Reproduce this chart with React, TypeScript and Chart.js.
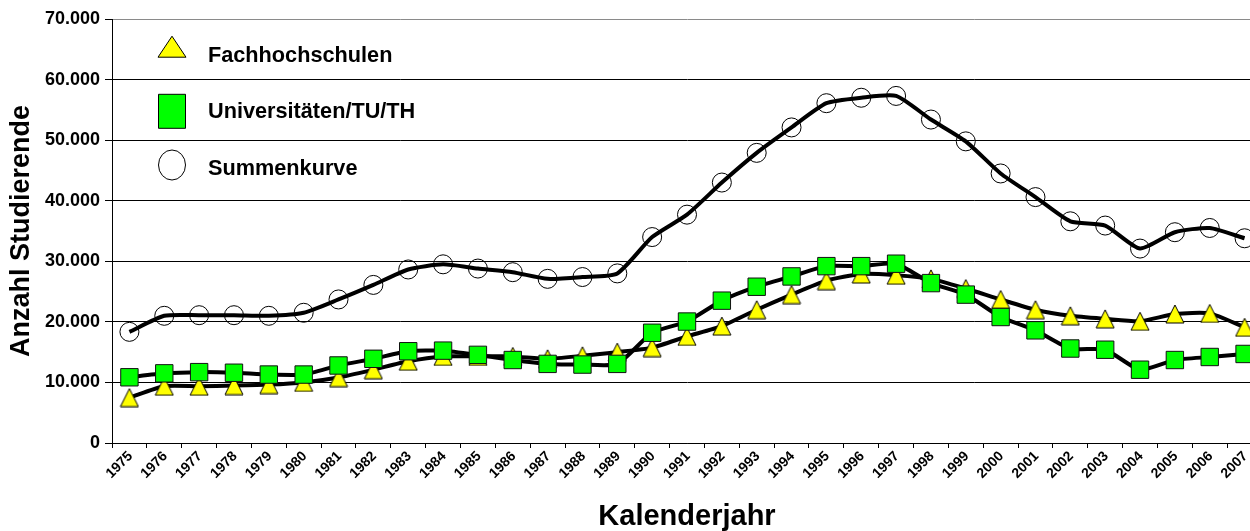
import React, { useEffect, useRef } from 'react';
import { Chart, registerables } from 'chart.js';

Chart.register(...registerables);

const years = ['1975', '1976', '1977', '1978', '1979', '1980', '1981', '1982', '1983', '1984', '1985',
  '1986', '1987', '1988', '1989', '1990', '1991', '1992', '1993', '1994', '1995', '1996', '1997',
  '1998', '1999', '2000', '2001', '2002', '2003', '2004', '2005', '2006', '2007'];

const fachhochschulen = [7500, 9370, 9370, 9480, 9640, 10000, 10800, 12100, 13500, 14300, 14300,
  14300, 13900, 14400, 15000, 15750, 17600, 19300, 22000, 24500, 26800, 27900, 27700,
  27100, 25500, 23700, 22000, 21000, 20500, 20100, 21300, 21400, 19100];

const universitaeten = [10850, 11500, 11700, 11600, 11300, 11300, 12800, 13900, 15150, 15250, 14550,
  13700, 13060, 12950, 13060, 18200, 20050, 23500, 25800, 27500, 29200, 29200, 29600,
  26400, 24500, 20800, 18600, 15600, 15400, 12100, 13700, 14200, 14700];

const summenkurve = [18350, 21000, 21100, 21100, 21000, 21500, 23700, 26100, 28650, 29500, 28800,
  28200, 27100, 27400, 28000, 34000, 37700, 43000, 47900, 52100, 56100, 57000, 57300,
  53400, 49800, 44500, 40600, 36600, 35900, 32100, 34800, 35500, 33800];

const yTickLabels = ['0', '10.000', '20.000', '30.000', '40.000', '50.000', '60.000', '70.000'];
const seriesNames = ['Fachhochschulen', 'Universitäten/TU/TH', 'Summenkurve'];
const xTitle = 'Kalenderjahr';
const yTitle = 'Anzahl Studierende';

const FONT = "'Liberation Sans', Arial, Helvetica, sans-serif";

function makeTriangle(w: number, h: number): HTMLCanvasElement {
  const c = document.createElement('canvas');
  c.width = w + 2;
  c.height = h + 2;
  const g = c.getContext('2d')!;
  g.beginPath();
  g.moveTo((w + 2) / 2, 1);
  g.lineTo(w + 1, h + 1);
  g.lineTo(1, h + 1);
  g.closePath();
  g.fillStyle = '#FFFF00';
  g.fill();
  g.lineWidth = 1;
  g.strokeStyle = '#000';
  g.stroke();
  return c;
}

const legendPlugin = {
  id: 'insideLegend',
  afterDraw(chart: any) {
    const ctx = chart.ctx as CanvasRenderingContext2D;
    const cx = 172;
    const textX = 208;
    const rows = [
      { cy: 46.7, base: 61.5 },
      { cy: 111.3, base: 118.3 },
      { cy: 165, base: 175 },
    ];
    ctx.save();
    ctx.lineWidth = 1;
    ctx.strokeStyle = '#000';
    // triangle
    ctx.beginPath();
    ctx.moveTo(cx, rows[0].cy - 10.5);
    ctx.lineTo(cx + 14, rows[0].cy + 10.5);
    ctx.lineTo(cx - 14, rows[0].cy + 10.5);
    ctx.closePath();
    ctx.fillStyle = '#FFFF00';
    ctx.fill();
    ctx.stroke();
    // square
    ctx.beginPath();
    ctx.rect(cx - 13.5, rows[1].cy - 17, 27, 34);
    ctx.fillStyle = '#00FF00';
    ctx.fill();
    ctx.stroke();
    // circle
    ctx.beginPath();
    ctx.ellipse(cx, rows[2].cy, 13.5, 15, 0, 0, Math.PI * 2);
    ctx.fillStyle = '#FFFFFF';
    ctx.fill();
    ctx.stroke();
    // text
    ctx.fillStyle = '#000';
    ctx.font = `bold 21.7px ${FONT}`;
    ctx.textAlign = 'left';
    ctx.textBaseline = 'alphabetic';
    chart.data.datasets.forEach((ds: any, i: number) => {
      ctx.fillText(ds.label, textX, rows[i].base);
    });
    ctx.restore();
  },
};

export default function App() {
  const canvasRef = useRef<HTMLCanvasElement | null>(null);

  useEffect(() => {
    if (!canvasRef.current) return;
    const tri = makeTriangle(18, 18);
    const chart = new Chart(canvasRef.current, {
      type: 'line',
      data: {
        labels: years,
        datasets: [
          {
            label: seriesNames[0],
            data: fachhochschulen,
            borderColor: '#000',
            borderWidth: 4,
            tension: 0.2,
            pointStyle: tri as any,
            pointRadius: 10,
            order: 2,
          },
          {
            label: seriesNames[1],
            data: universitaeten,
            borderColor: '#000',
            borderWidth: 4,
            tension: 0.2,
            pointStyle: 'rect',
            pointRadius: 12.3,
            pointBackgroundColor: '#00FF00',
            pointBorderColor: '#111',
            pointBorderWidth: 1,
            order: 1,
          },
          {
            label: seriesNames[2],
            data: summenkurve,
            borderColor: '#000',
            borderWidth: 4,
            tension: 0.2,
            pointStyle: 'circle',
            pointRadius: 9.5,
            pointBackgroundColor: 'rgba(255,255,255,0)',
            pointBorderColor: '#000',
            pointBorderWidth: 1,
            order: 0,
          },
        ],
      },
      options: {
        responsive: false,
        animation: false,
        events: [],
        layout: { padding: { top: 19, right: 18, left: 0, bottom: 0 } },
        plugins: {
          legend: { display: false },
          tooltip: { enabled: false },
        },
        scales: {
          x: {
            type: 'category',
            offset: true,
            grid: {
              display: true,
              drawOnChartArea: false,
              drawTicks: true,
              tickLength: 5,
              color: '#000',
              offset: true,
            },
            border: { display: true, color: '#000', width: 1 },
            ticks: {
              autoSkip: false,
              minRotation: 45,
              maxRotation: 45,
              padding: 0,
              labelOffset: 1,
              color: '#000',
              font: { family: FONT, size: 14, weight: 'bold' },
            },
            title: {
              display: true,
              text: xTitle,
              color: '#000',
              font: { family: FONT, size: 29, weight: 'bold', lineHeight: 1 },
              padding: { top: 0, bottom: 0 },
            },
            afterFit: (scale: any) => {
              scale.height = 88;
            },
          },
          y: {
            min: 0,
            max: 70000,
            grid: {
              color: (c: any) => (c.tick && c.tick.value === 70000 ? '#8a8a8a' : '#000'),
              lineWidth: 1,
              tickLength: 7,
              tickColor: '#000',
            },
            border: { display: true, color: '#000', width: 1 },
            ticks: {
              stepSize: 10000,
              padding: 5,
              color: '#000',
              font: { family: FONT, size: 18, weight: 'bold' },
              callback: (v: any) => yTickLabels[Math.round(Number(v) / 10000)] ?? '',
            },
            title: {
              display: true,
              text: yTitle,
              color: '#000',
              font: { family: FONT, size: 27, weight: 'bold', lineHeight: 1 },
              padding: { top: 8, bottom: 0 },
            },
            afterFit: (scale: any) => {
              scale.width = 112;
            },
          },
        },
      },
      plugins: [legendPlugin],
    });
    return () => chart.destroy();
  }, []);

  return (
    <div
      style={{
        position: 'fixed',
        left: 0,
        top: 0,
        width: 1250,
        height: 531,
        overflow: 'hidden',
        background: '#fff',
      }}
    >
      <canvas ref={canvasRef} width={1280} height={531} style={{ display: 'block' }} />
    </div>
  );
}
